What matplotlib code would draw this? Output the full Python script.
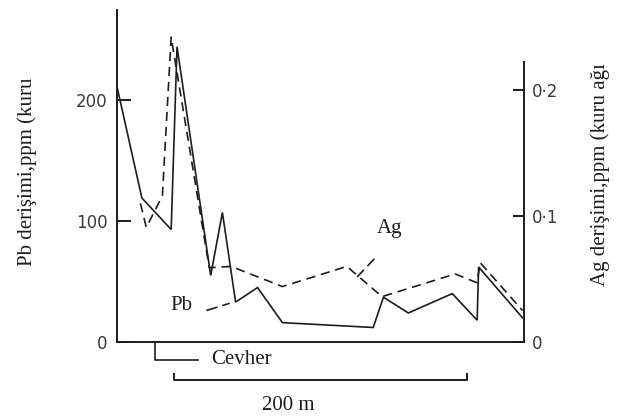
import numpy as np
import matplotlib
matplotlib.use("Agg")
import matplotlib.pyplot as plt
from matplotlib.transforms import blended_transform_factory

# distance along the profile (m) and concentrations
pb_x = [0, 17, 37, 41, 64, 72, 81, 96, 113, 175, 182, 199, 229, 246, 247, 277]
pb_ppm = [211, 119, 93, 244, 55, 107, 33, 45, 16, 12, 37, 24, 40, 18, 62, 20]

ag_x = [16, 20, 31, 37, 63, 78, 113, 157, 181, 231, 246, 248, 277]
ag_ppm = [0.110, 0.091, 0.116, 0.242, 0.059, 0.060, 0.044, 0.060, 0.036,
          0.054, 0.047, 0.063, 0.025]

pb_ticks = [0, 100, 200]
ag_ticks = [0, 0.1, 0.2]
ag_tick_labels = ["0", "0·1", "0·2"]

ore_zone = (26, 55)      # Cevher bracket
scale_bar = (39, 239)    # 200 m bar

INK = "#1c1c1c"
SERIF = "Liberation Serif"

W, H = 623, 419
fig = plt.figure(figsize=(W / 100, H / 100), dpi=100)
fig.patch.set_facecolor("white")

ax = fig.add_axes([117 / W, (H - 342) / H, 407 / W, 332 / H])
ax.set_facecolor("none")
ax2 = ax.twinx()

ax.plot(pb_x, pb_ppm, color=INK, lw=1.2, solid_joinstyle="miter")
ax2.plot(ag_x, ag_ppm, color=INK, lw=1.2, dashes=(5.5, 3.5))

ax.set_xlim(0, 278)
ax.set_ylim(0, 274.4)
ax2.set_ylim(0, 0.2635)

for a in (ax, ax2):
    a.spines["top"].set_visible(False)
    for s in a.spines.values():
        s.set_color(INK)
        s.set_linewidth(1.4)
    a.set_xticks([])
ax.spines["right"].set_visible(False)
ax2.spines["left"].set_visible(False)
ax2.spines["bottom"].set_visible(False)
ax2.spines["right"].set_bounds(0, 0.222)

ax.set_yticks(pb_ticks)
ax.tick_params(axis="y", direction="in", length=10, width=1.4, pad=7,
               colors=INK, labelsize=12)
ax2.set_yticks(ag_ticks)
ax2.set_yticklabels(ag_tick_labels)
ax2.tick_params(axis="y", direction="in", length=8, width=1.4, pad=6,
                colors=INK, labelsize=12)
for lab in ax.get_yticklabels() + ax2.get_yticklabels():
    lab.set_color("#3a3a3a")

# axis titles
fig.text(27 / W, 1 - 172 / H, "Pb derişimi,ppm (kuru", rotation=90,
         ha="center", va="center", family=SERIF, fontsize=15, color=INK)
fig.text(600 / W, 1 - 175 / H, "Ag derişimi,ppm (kuru ağı", rotation=90,
         ha="center", va="center", family=SERIF, fontsize=15, color=INK)

# curve labels with short leaders
ax.text(44, 30, "Pb", ha="center", va="center", family=SERIF, fontsize=15,
        color=INK)
ax.plot([61, 77], [26, 32], color=INK, lw=1.2, dashes=(7, 3))
ax2.text(186, 0.0897, "Ag", ha="center", va="center", family=SERIF,
         fontsize=15, color=INK)
ax2.plot([164, 177], [0.0516, 0.0675], color=INK, lw=1.2, dashes=(6, 3))

# ore zone bracket and scale bar below the axis
tr = blended_transform_factory(ax.transData, ax.transAxes)
y0, y1 = 0.0, -0.054
ax.plot([ore_zone[0], ore_zone[0], ore_zone[1]], [y0, y1, y1], transform=tr,
        color=INK, lw=1.2, clip_on=False)
ax.text(ore_zone[1] + 9, y1, "Cevher", transform=tr, ha="left",
        va="center", family=SERIF, fontsize=15, color=INK)

yb, yt = -0.114, -0.097
ax.plot([scale_bar[0], scale_bar[0], scale_bar[1], scale_bar[1]],
        [yt, yb, yb, yt], transform=tr, color=INK, lw=1.4, clip_on=False)
ax.text(117, -0.19, "200 m", transform=tr, ha="center", va="center",
        family=SERIF, fontsize=15, color=INK)

fig.savefig("out.png", dpi=100, facecolor="white")
